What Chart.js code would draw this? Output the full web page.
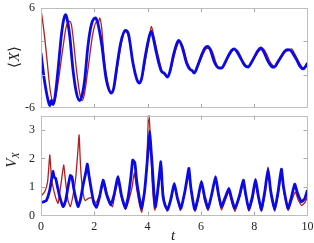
<!DOCTYPE html>
<html>
<head>
<meta charset="utf-8">
<script src="https://cdn.jsdelivr.net/npm/chart.js@4.4.1/dist/chart.umd.min.js"></script>
<style>
  body { margin: 0; background: #fff; }
  #wrap { position: relative; width: 314px; height: 243px; overflow: hidden; }
  canvas { position: absolute; left: 0; }
  #cTop { top: 0; }
  #cBot { top: 112px; }
  .lbl { position: absolute; font-family: 'Liberation Serif', serif; font-size: 15px; color: #222;
         transform: translate(-50%, -50%); white-space: nowrap; line-height: 1; }
  .rot { transform: translate(-50%, -50%) rotate(-90deg); }
  .lbl i { font-style: italic; }
  .lbl sub { font-size: 10px; vertical-align: -3px; font-style: italic; }
</style>
</head>
<body>
<div id="wrap">
  <canvas id="cTop" width="314" height="112"></canvas>
  <canvas id="cBot" width="314" height="131"></canvas>
  <div class="lbl rot" style="left:14px; top:57px;">⟨<i>X</i>⟩</div>
  <div class="lbl rot" style="left:12px; top:160px;"><i>V</i><sub>X</sub></div>
  <div class="lbl" style="left:173px; top:235px;"><i>t</i></div>
</div>
<script>
// ⟨X⟩ (panel du haut)
const tBlueX = [0, 0.12, 0.26, 0.33, 0.39, 0.45, 0.52, 0.64, 0.76, 0.85, 0.92, 0.98, 1.08, 1.2, 1.33, 1.45, 1.54, 1.64, 1.76, 1.89, 2.04, 2.12, 2.27, 2.45, 2.64, 2.73, 2.83, 2.99, 3.16, 3.27, 3.45, 3.6, 3.7, 3.78, 3.89, 4.02, 4.13, 4.2, 4.33, 4.52, 4.62, 4.75, 4.84, 4.96, 5.08, 5.17, 5.3, 5.46, 5.6, 5.67, 5.75, 5.88, 6.02, 6.15, 6.25, 6.35, 6.52, 6.68, 6.77, 6.9, 7.02, 7.15, 7.25, 7.38, 7.52, 7.65, 7.77, 7.9, 8.02, 8.14, 8.25, 8.38, 8.52, 8.65, 8.75, 8.88, 9.02, 9.14, 9.25, 9.37, 9.48, 9.59, 9.72, 9.84, 9.93, 10];
const blueX  = [0.6, -2.5, -5.0, -5.7, -5.1, -5.6, -4.8, -1.4, 2.6, 4.6, 5.2, 4.7, 2.6, -1.4, -4.2, -5.1, -4.5, -2.6, 1.4, 4.0, 4.8, 4.3, 1.8, -2.6, -4.2, -3.6, -1.4, 1.8, 3.3, 3.0, -0.6, -2.6, -3.0, -2.4, -0.2, 2.0, 3.2, 2.6, 0.6, -1.6, -1.8, -2.3, -1.6, 0.2, 1.6, 2.1, 1.3, -0.6, -1.4, -1.5, -1.8, -0.9, 0.3, 1.2, 1.4, 1.0, -0.6, -1.2, -1.2, -0.6, 0.2, 0.9, 1.1, 0.6, -0.2, -0.9, -1.1, -0.5, 0.2, 0.9, 1.2, 0.6, -0.4, -1.0, -1.1, -0.5, 0.2, 0.8, 1.0, 0.9, 0.4, -0.2, -1.0, -1.3, -1.0, -0.6];
const tRedX = [0, 0.1, 0.2, 0.36, 0.49, 0.56, 0.66, 0.83, 0.95, 1.08, 1.14, 1.2, 1.33, 1.45, 1.55, 1.63, 1.76, 1.95, 2.1, 2.15, 2.2, 2.27, 2.39, 2.55, 2.67, 2.78, 2.9, 3.05, 3.18, 3.3, 3.48, 3.62, 3.72, 3.82, 3.95, 4.08, 4.14, 4.22, 4.36, 4.55, 4.76, 4.88, 5.0, 5.1, 5.2, 5.32, 5.5, 5.65, 5.78, 5.92, 6.06, 6.2, 6.33, 6.45, 6.58, 6.72, 6.8, 6.93, 7.06, 7.2, 7.33, 7.45, 7.58, 7.7, 7.8, 7.93, 8.06, 8.2, 8.34, 8.46, 8.6, 8.7, 8.8, 8.93, 9.06, 9.2, 9.3, 9.4, 9.52, 9.65, 9.77, 9.86, 9.94, 10];
const redX  = [5.8, 3.5, 0.6, -4.2, -5.4, -4.6, -2.6, 1.4, 3.8, 4.4, 4.0, 2.6, -1.4, -4.2, -5.1, -4.3, -1.4, 3.0, 4.4, 4.1, 4.8, 3.8, -0.6, -3.5, -4.2, -3.0, -0.5, 2.3, 3.2, 2.4, -1.0, -2.7, -3.0, -2.0, 0.3, 2.6, 3.8, 2.8, 0.8, -1.6, -2.2, -1.3, 0.3, 1.4, 2.0, 1.4, -0.6, -1.5, -1.7, -0.8, 0.3, 1.1, 1.2, 0.6, -0.7, -1.2, -1.2, -0.5, 0.3, 0.9, 1.0, 0.5, -0.4, -0.9, -1.0, -0.4, 0.3, 0.9, 1.1, 0.5, -0.5, -0.9, -1.0, -0.4, 0.3, 0.8, 0.9, 1.1, 0.5, -0.3, -1.0, -1.2, -0.9, -0.6];

// V_X (panel du bas)
const tBlueV = [0, 0.1, 0.2, 0.33, 0.41, 0.45, 0.49, 0.55, 0.62, 0.7, 0.83, 0.92, 1.01, 1.1, 1.16, 1.22, 1.29, 1.39, 1.48, 1.58, 1.68, 1.74, 1.8, 1.89, 1.98, 2.08, 2.2, 2.33, 2.45, 2.62, 2.75, 2.89, 3.02, 3.17, 3.28, 3.38, 3.44, 3.52, 3.58, 3.64, 3.77, 3.88, 3.96, 4.02, 4.08, 4.13, 4.17, 4.24, 4.29, 4.36, 4.42, 4.5, 4.54, 4.58, 4.66, 4.75, 4.88, 5.0, 5.12, 5.25, 5.4, 5.5, 5.55, 5.62, 5.77, 5.9, 6.02, 6.14, 6.27, 6.42, 6.55, 6.65, 6.77, 6.9, 7.05, 7.15, 7.27, 7.45, 7.59, 7.68, 7.8, 7.94, 8.05, 8.15, 8.27, 8.4, 8.52, 8.62, 8.77, 8.9, 9.02, 9.1, 9.27, 9.4, 9.52, 9.62, 9.77, 9.9, 10];
const blueV  = [0.45, 0.48, 0.52, 0.9, 1.35, 1.55, 1.35, 1.3, 1.0, 0.66, 0.31, 0.5, 0.98, 1.4, 1.35, 1.0, 0.66, 0.31, 0.55, 1.07, 1.5, 1.8, 1.4, 0.89, 0.45, 0.29, 0.66, 1.24, 0.77, 0.37, 0.75, 1.36, 0.7, 0.25, 0.7, 1.4, 1.94, 1.85, 1.3, 0.89, 0.25, 0.8, 1.59, 2.3, 2.95, 2.3, 1.8, 0.77, 0.3, 0.7, 1.24, 1.88, 1.2, 0.66, 0.35, 0.21, 0.6, 1.12, 0.6, 0.25, 0.85, 1.4, 1.65, 1.0, 0.21, 0.65, 1.19, 0.65, 0.25, 0.8, 1.36, 0.8, 0.31, 0.6, 0.95, 0.6, 0.25, 0.7, 1.24, 0.75, 0.21, 0.7, 1.26, 0.7, 0.21, 0.85, 1.62, 0.85, 0.21, 0.85, 1.62, 1.0, 0.25, 0.65, 1.1, 0.8, 0.48, 0.6, 0.89];
const tRedV = [0, 0.14, 0.25, 0.33, 0.37, 0.41, 0.5, 0.58, 0.64, 0.75, 0.85, 0.92, 1.01, 1.1, 1.2, 1.3, 1.38, 1.43, 1.47, 1.51, 1.58, 1.66, 1.78, 1.9, 2.05, 2.15, 2.28, 2.39, 2.5, 2.68, 2.78, 2.89, 3.0, 3.17, 3.3, 3.42, 3.5, 3.58, 3.7, 3.78, 3.9, 3.98, 4.04, 4.1, 4.17, 4.27, 4.38, 4.5, 4.6, 4.73, 4.88, 5.0, 5.1, 5.23, 5.4, 5.55, 5.65, 5.78, 5.9, 6.02, 6.13, 6.27, 6.42, 6.55, 6.66, 6.77, 6.92, 7.05, 7.16, 7.28, 7.45, 7.59, 7.7, 7.8, 7.95, 8.05, 8.16, 8.27, 8.42, 8.52, 8.62, 8.77, 8.9, 9.02, 9.12, 9.27, 9.42, 9.54, 9.65, 9.78, 9.9, 10];
const redV  = [0.68, 0.83, 1.2, 2.12, 1.6, 1.19, 0.8, 0.54, 0.43, 1.1, 1.77, 1.2, 0.54, 0.31, 0.7, 1.3, 2.2, 2.82, 2.0, 1.36, 0.77, 0.52, 0.6, 0.62, 0.45, 0.6, 0.95, 1.12, 0.7, 0.3, 0.8, 1.2, 0.7, 0.22, 0.55, 1.0, 1.5, 1.0, 0.35, 0.12, 0.9, 2.1, 3.7, 2.8, 1.2, 0.19, 0.8, 1.48, 0.7, 0.15, 0.55, 1.06, 0.65, 0.18, 0.8, 1.42, 0.8, 0.15, 0.55, 1.19, 0.55, 0.18, 0.8, 1.25, 0.65, 0.2, 0.55, 0.83, 0.45, 0.15, 0.65, 1.1, 0.6, 0.15, 0.6, 1.15, 0.6, 0.15, 0.85, 1.69, 0.8, 0.15, 0.75, 1.42, 0.8, 0.18, 0.55, 0.83, 0.55, 0.35, 0.45, 0.66];

const xTicksStep = 2;
const topLabels = [-6, 0, 6];
const botLabels = [0, 1, 2, 3];

const BLUE = '#0a0ae6';
const RED = '#b41e1e';
const FONT = { family: 'Liberation Serif', size: 12 };

function pts(ts, vs) {
  return ts.map((t, i) => ({ x: t, y: vs[i] }));
}

// cadre gris + petites graduations vers l'intérieur
const frameTicks = {
  id: 'frameTicks',
  afterDatasetsDraw(chart) {
    const { ctx, chartArea: a, scales: { x, y } } = chart;
    const L = 4;
    ctx.save();
    ctx.strokeStyle = '#a8a8a8';
    ctx.lineWidth = 1;
    ctx.beginPath();
    y.ticks.forEach(tk => {
      if (tk.value <= y.min || tk.value >= y.max) return;
      const py = Math.round(y.getPixelForValue(tk.value)) + 0.5;
      ctx.moveTo(a.left, py); ctx.lineTo(a.left + L, py);
      ctx.moveTo(a.right, py); ctx.lineTo(a.right - L, py);
    });
    x.ticks.forEach(tk => {
      if (tk.value <= x.min || tk.value >= x.max) return;
      const px = Math.round(x.getPixelForValue(tk.value)) + 0.5;
      ctx.moveTo(px, a.top); ctx.lineTo(px, a.top + L);
      ctx.moveTo(px, a.bottom); ctx.lineTo(px, a.bottom - L);
    });
    ctx.stroke();
    ctx.strokeStyle = '#bdbdbd';
    ctx.strokeRect(Math.round(a.left) + 0.5, Math.round(a.top) + 0.5,
                   Math.round(a.width) - 1, Math.round(a.height) - 1);
    ctx.restore();
  }
};

function makeChart(id, blue, red, yMin, yMax, yStep, yLabels, showX, padding, xHeight, smooth) {
  return new Chart(document.getElementById(id), {
    type: 'line',
    data: {
      datasets: [
        { data: blue, borderColor: BLUE, borderWidth: 2.8, pointRadius: 0,
          cubicInterpolationMode: smooth ? 'monotone' : 'default', tension: smooth ? 0 : 0.15 },
        { data: red, borderColor: RED, borderWidth: 1.3, pointRadius: 0,
          cubicInterpolationMode: smooth ? 'monotone' : 'default', tension: smooth ? 0 : 0.15 }
      ]
    },
    options: {
      responsive: false,
      animation: false,
      events: [],
      layout: { padding: padding },
      plugins: { legend: { display: false }, tooltip: { enabled: false } },
      scales: {
        x: {
          type: 'linear', min: 0, max: 10,
          grid: { display: false, drawTicks: false },
          border: { display: false },
          ticks: { display: showX, stepSize: xTicksStep, padding: 4, font: FONT, color: '#222',
                   maxRotation: 0 },
          afterFit: s => { s.height = xHeight; s.paddingLeft = 0; s.paddingRight = 0; }
        },
        y: {
          min: yMin, max: yMax,
          grid: { display: false, drawTicks: false },
          border: { display: false },
          ticks: { stepSize: yStep, padding: 6, font: FONT, color: '#222',
                   callback: v => yLabels.includes(v) ? String(v) : '' },
          afterFit: s => { s.width = 41; s.paddingTop = 0; s.paddingBottom = 0; }
        }
      }
    },
    plugins: [frameTicks]
  });
}

makeChart('cTop', pts(tBlueX, blueX), pts(tRedX, redX), -6, 6, 2, topLabels, false,
          { top: 8, right: 6.5, bottom: 4, left: 0 }, 0, true);
makeChart('cBot', pts(tBlueV, blueV), pts(tRedV, redV), 0, 3.5, 0.5, botLabels, true,
          { top: 3.5, right: 6.5, bottom: 0, left: 0 }, 27.5, false);
</script>
</body>
</html>
